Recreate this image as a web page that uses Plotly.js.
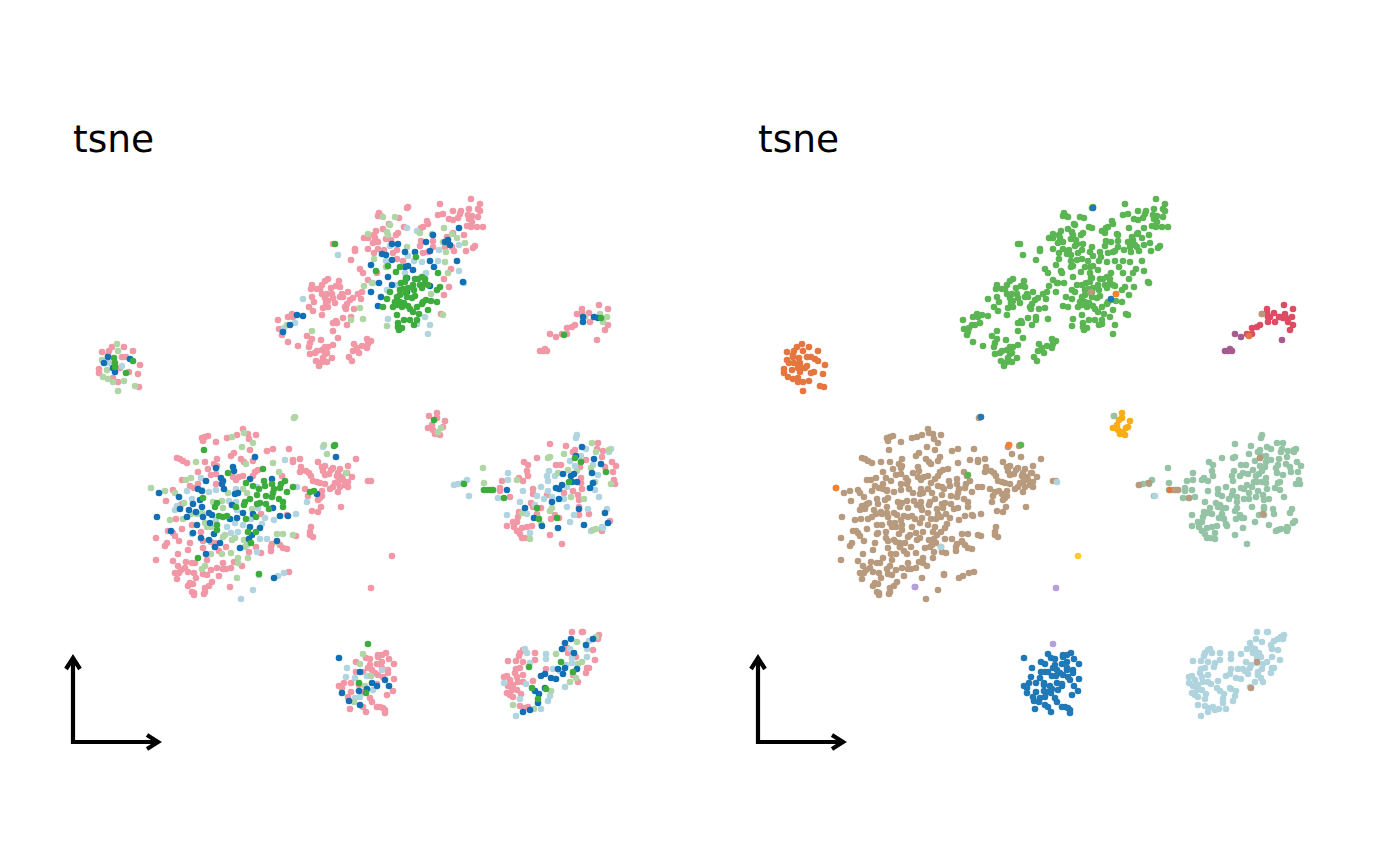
<!DOCTYPE html>
<html lang="en">
  <head>
    <meta charset="UTF-8" />
    <title>tsne</title>
    <script src="https://cdn.plot.ly/plotly-3.0.1.min.js"></script>
    <style>
      body { margin: 0; background: #fff; }
      #plot { width: 1400px; height: 866px; }
    </style>
  </head>
  <body>
    <div id="plot"></div>
    <script>
      // embedding positions, one list per cluster and cell type
      const upperPink = [[471,199],[440,204],[480,204],[478,209],[480,211],[469,209],[461,211],[453,211],[443,214],[438,215],[460,214],[468,215],[472,216],[478,217],[458,218],[449,219],[453,220],[469,219],[472,222],[467,226],[471,227],[477,227],[483,227],[408,207],[407,208],[464,235],[453,233],[447,237],[475,246],[473,248],[466,251],[452,247],[454,251],[445,247],[433,241],[421,241],[423,227],[427,221],[428,224],[421,228],[404,227],[399,218],[379,213],[378,216],[381,216],[389,224],[383,229],[376,231],[374,235],[364,238],[368,238],[375,238],[373,243],[378,242],[386,239],[391,240],[396,235],[398,233],[368,249],[355,249],[355,251],[378,249],[384,250],[374,253],[351,260],[393,253],[397,250],[333,244],[423,253],[428,252],[433,247],[420,246],[397,259],[403,261],[360,269],[363,273],[368,280],[377,273],[451,269],[444,279],[449,287],[444,295],[441,314],[328,279],[325,281],[339,281],[312,285],[311,289],[322,285],[317,289],[320,289],[336,286],[340,287],[331,288],[348,292],[322,294],[327,294],[332,294],[312,297],[342,294],[340,297],[343,297],[325,298],[328,301],[333,298],[326,303],[314,302],[335,303],[350,300],[353,298],[358,294],[362,292],[361,299],[347,304],[345,307],[328,307],[323,308],[309,307],[313,311],[346,309],[354,309],[322,315],[351,317],[343,318],[336,321],[333,323],[337,323],[347,325],[278,320],[288,317],[292,314],[293,317],[279,329],[282,335],[333,331],[338,338],[307,336],[312,339],[321,340],[288,342],[298,346],[310,343],[309,347],[333,345],[328,347],[325,347],[322,350],[317,351],[310,354],[315,353],[325,354],[327,353],[323,358],[332,358],[316,361],[322,362],[327,362],[319,366],[354,344],[367,339],[371,341],[368,344],[362,346],[367,348],[357,348],[353,351],[359,353],[349,357],[352,361]];
      const upperLeaf = [[383,217],[395,217],[390,225],[387,232],[388,235],[368,234],[420,233],[432,234],[444,228],[452,234],[457,238],[465,243],[443,242],[407,247],[446,252],[445,262],[374,259],[386,267],[448,273],[364,286],[372,283],[360,308],[363,319],[351,320],[431,294],[443,315],[387,326],[312,331],[287,325]];
      const upperSky = [[338,255],[303,299],[295,323],[284,328],[407,228],[417,231],[390,246],[459,245],[439,250],[408,256],[386,261],[414,261],[422,262],[438,261],[405,273],[426,273],[459,271],[464,283],[373,283],[387,290],[397,285],[388,319],[425,317],[430,325],[428,334],[417,324]];
      const upperBlue = [[459,228],[448,240],[445,242],[450,245],[398,244],[392,244],[426,242],[433,235],[405,252],[415,252],[430,251],[382,254],[386,255],[392,260],[430,261],[457,261],[434,267],[371,265],[405,267],[408,266],[413,270],[388,277],[407,278],[392,285],[379,283],[371,292],[381,297],[378,306],[430,286],[407,292],[463,282],[297,315],[303,316],[290,325],[283,332]];
      const upperGreen = [[335,244],[376,271],[416,257],[400,267],[396,272],[438,273],[388,266],[422,277],[415,279],[418,279],[425,279],[401,283],[406,278],[405,282],[413,285],[420,285],[425,283],[428,285],[422,288],[414,290],[408,288],[400,290],[403,289],[390,292],[440,287],[437,290],[415,296],[412,298],[400,295],[406,293],[397,297],[387,299],[395,302],[407,297],[400,302],[404,303],[397,305],[402,307],[393,307],[383,307],[431,301],[437,302],[423,302],[426,300],[422,304],[417,307],[408,306],[410,309],[413,312],[428,310],[419,314],[397,315],[404,320],[410,320],[417,320],[398,323],[414,325],[398,327],[402,328],[399,330]];

      const lowerPink = [[243,429],[248,434],[256,435],[237,435],[227,438],[208,436],[205,437],[202,438],[203,441],[216,442],[249,439],[289,449],[273,449],[267,451],[250,450],[234,453],[231,456],[177,458],[180,459],[183,461],[187,463],[205,462],[217,459],[241,459],[244,462],[253,461],[214,464],[217,466],[208,469],[198,472],[182,480],[216,474],[211,475],[198,484],[216,484],[190,486],[194,488],[255,472],[253,476],[243,476],[239,477],[233,477],[236,480],[258,470],[173,490],[166,501],[182,504],[181,505],[176,519],[192,525],[182,529],[168,531],[173,533],[175,536],[179,541],[156,538],[167,543],[165,546],[190,543],[201,532],[203,541],[211,542],[215,543],[203,548],[188,550],[178,554],[219,551],[226,547],[215,547],[156,560],[173,561],[186,562],[195,563],[207,560],[192,563],[178,566],[181,570],[175,573],[179,573],[185,568],[188,572],[194,573],[203,574],[207,575],[211,570],[217,568],[223,563],[223,569],[226,569],[219,576],[231,568],[234,562],[242,566],[196,578],[177,579],[212,582],[193,584],[190,583],[188,586],[209,586],[205,588],[230,587],[192,592],[194,593],[194,595],[205,592],[204,594],[249,552],[261,553],[271,547],[272,544],[271,551],[280,545],[283,548],[287,549],[289,572],[256,547],[296,536],[311,527],[310,532],[310,535],[313,537],[261,514],[287,515],[300,459],[293,460],[293,462],[301,467],[300,472],[318,462],[325,466],[322,467],[306,471],[309,473],[311,476],[323,471],[325,475],[331,470],[333,468],[329,474],[340,469],[348,466],[356,459],[338,473],[337,476],[342,477],[352,477],[347,473],[313,481],[317,482],[320,483],[325,484],[335,483],[338,482],[343,480],[348,482],[345,485],[348,487],[340,487],[330,489],[333,487],[338,492],[322,491],[322,496],[305,489],[308,496],[318,500],[320,498],[321,507],[312,511],[318,512],[341,507],[368,481],[371,481],[282,476]];
      const lowerLeaf = [[295,417],[294,418],[232,437],[244,433],[253,443],[242,447],[246,464],[196,462],[273,463],[279,472],[324,445],[327,454],[346,473],[151,488],[165,491],[175,493],[186,480],[191,478],[228,493],[247,493],[243,489],[213,502],[222,501],[184,503],[223,508],[191,514],[197,514],[202,513],[170,520],[183,519],[205,523],[207,527],[211,527],[252,509],[225,535],[223,537],[235,538],[232,540],[244,540],[277,534],[283,534],[293,535],[277,542],[247,545],[245,547],[231,553],[211,554],[222,554],[238,558],[248,558],[238,563],[205,566],[202,569],[237,578]];
      const lowerSky = [[323,447],[285,460],[297,487],[307,502],[296,514],[265,518],[274,520],[251,519],[201,478],[187,491],[202,490],[209,492],[216,490],[236,489],[236,502],[229,501],[192,499],[177,506],[175,510],[257,487],[258,508],[237,510],[216,520],[227,527],[235,523],[243,525],[262,524],[231,533],[238,532],[260,539],[267,539],[192,534],[257,552],[278,576],[284,573],[253,590],[241,599],[259,575]];
      const lowerBlue = [[336,457],[317,494],[255,457],[216,468],[233,467],[234,471],[221,478],[223,481],[222,484],[224,489],[206,481],[250,479],[272,479],[159,493],[179,497],[198,489],[202,491],[200,500],[193,504],[180,509],[189,510],[202,507],[196,512],[157,517],[187,517],[203,517],[209,513],[212,515],[210,523],[197,525],[235,494],[238,493],[232,505],[243,513],[253,514],[230,519],[237,518],[273,508],[280,516],[288,516],[250,527],[260,528],[252,535],[249,539],[214,534],[193,533],[171,531],[201,538],[209,540],[220,543],[215,547],[240,548],[206,554],[274,578],[277,541]];
      const lowerGreen = [[204,450],[335,445],[334,446],[263,469],[228,473],[246,483],[264,481],[272,484],[265,486],[253,486],[281,484],[285,481],[293,487],[259,489],[274,489],[280,488],[287,492],[273,493],[257,495],[266,496],[272,497],[217,503],[215,507],[203,498],[250,499],[245,502],[260,503],[257,504],[266,504],[279,499],[283,502],[283,507],[236,507],[244,505],[269,509],[219,516],[223,517],[227,516],[246,519],[256,517],[217,525],[217,530],[248,532],[256,532],[251,543],[198,558],[259,574],[310,492],[314,491]];

      const sidePink = [[550,444],[566,446],[598,443],[573,452],[575,450],[597,449],[603,451],[602,457],[537,458],[524,462],[528,465],[527,471],[528,476],[519,478],[523,481],[502,481],[500,488],[500,491],[510,497],[556,465],[561,465],[580,467],[586,460],[612,462],[616,466],[605,467],[613,472],[614,480],[615,484],[581,478],[581,483],[582,489],[573,491],[564,493],[578,495],[579,500],[547,495],[533,489],[533,494],[579,507],[579,515],[589,514],[531,503],[533,507],[541,508],[519,512],[518,517],[537,514],[551,519],[555,515],[559,518],[513,522],[517,522],[507,526],[514,527],[522,528],[527,527],[532,526],[517,531],[520,534],[522,538],[525,538],[550,535],[562,544],[602,531],[610,521]];
      const sideLeaf = [[592,443],[596,452],[609,450],[564,454],[548,458],[550,457],[483,468],[484,483],[558,473],[568,470],[577,471],[591,468],[517,480],[595,482],[611,484],[571,497],[584,499],[552,508],[550,511],[522,513],[538,518],[541,524],[530,539],[596,529],[593,530]];
      const sideSky = [[577,435],[576,438],[611,449],[609,452],[586,449],[581,456],[593,465],[570,461],[575,466],[549,471],[508,473],[508,480],[547,476],[548,481],[555,476],[598,475],[467,480],[463,483],[458,484],[454,485],[469,496],[498,498],[523,491],[541,487],[537,496],[548,491],[552,497],[544,499],[520,502],[535,505],[564,499],[567,507],[595,490],[599,497],[588,509],[607,509],[507,515],[527,514],[570,522],[574,515],[530,533],[591,531],[602,527],[603,528],[567,487]];
      const sideBlue = [[582,447],[576,456],[594,459],[601,464],[592,473],[563,474],[571,476],[574,474],[572,482],[577,482],[562,485],[556,488],[559,489],[590,488],[593,483],[507,490],[559,499],[552,502],[525,508],[579,509],[605,513],[534,518],[542,526],[558,528],[584,525],[608,523]];
      const sideGreen = [[575,458],[581,462],[606,472],[569,482],[464,484],[484,490],[488,490],[491,490],[493,490],[504,498],[537,508],[539,519],[557,518]];

      const midPink = [[386,653],[382,655],[378,655],[378,657],[389,659],[366,658],[370,659],[394,664],[356,662],[377,664],[382,662],[370,665],[368,668],[382,668],[388,670],[356,672],[372,670],[375,673],[388,673],[363,672],[378,675],[383,677],[394,679],[351,683],[344,683],[339,686],[342,688],[377,684],[359,685],[393,691],[387,695],[351,692],[348,697],[370,698],[372,702],[363,707],[377,707],[380,707],[383,708],[385,710],[385,713],[350,709],[366,712],[362,692]];
      const midLeaf = [[363,654],[360,664],[371,676],[365,686],[354,702]];
      const midSky = [[347,668],[346,677],[355,678],[367,676],[382,670],[373,690],[360,697],[355,698]];
      const midBlue = [[339,658],[360,672],[385,680],[389,686],[372,683],[377,686],[367,689],[359,691],[342,693],[349,701],[360,705]];
      const midGreen = [[359,683],[366,693]];

      const cornerPink = [[572,632],[582,632],[583,632],[599,635],[598,639],[568,653],[593,650],[576,657],[595,660],[567,648],[523,650],[520,653],[519,656],[535,653],[508,661],[516,661],[523,662],[535,660],[520,668],[516,669],[546,669],[587,668],[589,668],[586,673],[573,675],[578,682],[507,676],[504,677],[515,673],[510,680],[517,677],[523,675],[533,681],[508,686],[513,685],[518,682],[523,682],[512,690],[517,690],[507,693],[510,695],[513,697],[521,694],[520,706],[524,708],[528,707]];
      const cornerLeaf = [[556,654],[577,642],[596,637],[582,662],[578,664],[576,678],[570,682],[551,691],[513,705],[534,709]];
      const cornerSky = [[525,649],[527,653],[546,654],[546,659],[530,663],[570,649],[572,658],[572,663],[587,657],[587,649],[589,641],[553,669],[560,671],[566,665],[504,683],[526,684],[565,687],[550,696],[548,701],[520,699],[541,709],[516,716]];
      const cornerBlue = [[571,639],[565,643],[562,649],[586,645],[593,639],[574,653],[558,669],[565,668],[563,674],[577,669],[545,674],[541,676],[551,678],[556,679],[545,688],[535,691],[539,694],[538,703],[530,710],[523,712]];
      const cornerGreen = [[561,662],[529,667],[573,672],[532,688],[546,689],[538,699]];

      const blobPink = [[102,352],[112,347],[109,351],[124,347],[133,351],[122,357],[126,357],[140,365],[99,369],[99,373],[129,372],[138,374],[120,368],[118,382],[113,378],[139,387],[108,355]];
      const blobLeaf = [[117,344],[118,351],[102,360],[107,370],[103,377],[108,379],[113,382],[124,381],[135,386],[118,391]];
      const blobSky = [[122,366],[109,363]];
      const blobBlue = [[108,357],[104,363],[130,359],[115,372],[113,368]];
      const blobGreen = [[114,358],[115,363],[115,367],[133,361],[126,373]];

      const tinyPink = [[437,413],[429,416],[437,418],[445,421],[432,425],[428,428],[433,430],[443,427],[435,434],[440,435]];
      const tinyLeaf = [[441,428],[438,432]];
      const tinyGreen = [[434,420]];

      const armPink = [[599,305],[608,309],[582,309],[577,314],[582,313],[589,313],[590,322],[608,325],[605,330],[575,325],[572,327],[567,328],[567,334],[562,334]];
      const armLeaf = [[585,317],[600,314],[607,317],[603,322]];
      const armSky = [[595,317]];
      const armBlue = [[583,317],[583,322],[594,317],[598,318]];
      const armGreen = [[601,318],[564,335]];
      const tailPink = [[550,334],[556,337],[597,340],[540,351],[543,351],[545,349],[547,351]];

      // left-panel cells that only have a stray counterpart on the right
      const loosePink = [[392,556],[371,588]];
      const looseGreen = [[368,644]];

      // cells in the right panel whose cluster differs from the blob around them
      const strayBlue = [[408,208],[296,417],[426,299]];
      const strayFlame = [[431,294],[151,488],[324,445]];
      const strayRust = [[485,490],[564,336]];
      const strayLeaf = [[336,445],[283,475]];
      const strayTan = [[406,292],[577,314],[454,485],[464,483],[490,490],[493,490],[504,498],[575,458],[578,514],[572,662],[566,688]];
      const straySky = [[256,547],[372,482],[470,496]];
      const strayGold = [[393,556]];
      const strayLilac = [[371,588],[230,587],[368,644]];
      const straySage = [[429,416]];

      // corner axis arrows: horizontal run, then its head, then the vertical head
      const arrowX = [73, 73, 158, null, 66, 73, 80, null, 147, 158, 147];
      const arrowY = [658, 742, 742, null, 669, 658, 669, null, 735, 742, 749];

      const leftGroups = [
        { color: "#f297a5", pts: [upperPink, lowerPink, sidePink, midPink, cornerPink, blobPink, tinyPink, armPink, tailPink, loosePink] },
        { color: "#b1d5e0", pts: [upperSky, lowerSky, sideSky, midSky, cornerSky, blobSky, armSky] },
        { color: "#b0d6a5", pts: [upperLeaf, lowerLeaf, sideLeaf, midLeaf, cornerLeaf, blobLeaf, tinyLeaf, armLeaf] },
        { color: "#1170b5", pts: [upperBlue, lowerBlue, sideBlue, midBlue, cornerBlue, blobBlue, armBlue] },
        { color: "#3cad3c", pts: [upperGreen, lowerGreen, sideGreen, midGreen, cornerGreen, blobGreen, tinyGreen, armGreen, looseGreen] },
      ];

      const rightGroups = [
        { color: "#5ab552", pts: [upperPink, upperLeaf, upperSky, upperBlue, upperGreen] },
        { color: "#b89b7e", pts: [lowerPink, lowerLeaf, lowerSky, lowerBlue, lowerGreen] },
        { color: "#95c3a6", pts: [sidePink, sideLeaf, sideSky, sideBlue, sideGreen] },
        { color: "#2079b6", pts: [midPink, midLeaf, midSky, midBlue, midGreen] },
        { color: "#b0d4de", pts: [cornerPink, cornerLeaf, cornerSky, cornerBlue, cornerGreen] },
        { color: "#e5763f", pts: [blobPink, blobLeaf, blobSky, blobBlue, blobGreen] },
        { color: "#fcac14", pts: [tinyPink, tinyLeaf, tinyGreen] },
        { color: "#de4b63", pts: [armPink, armLeaf, armSky, armBlue, armGreen] },
        { color: "#a65b8e", pts: [tailPink] },
        { color: "#2079b6", pts: [strayBlue] },
        { color: "#fe7f2d", pts: [strayFlame] },
        { color: "#e5763f", pts: [strayRust] },
        { color: "#5ab552", pts: [strayLeaf] },
        { color: "#b89b7e", pts: [strayTan] },
        { color: "#b0d4de", pts: [straySky] },
        { color: "#ffc92f", pts: [strayGold] },
        { color: "#b39fdc", pts: [strayLilac] },
        { color: "#95c3a6", pts: [straySage] },
      ];

      function scatterTrace(group, xaxis, yaxis) {
        const all = group.pts.flat();
        return {
          x: all.map((p) => p[0]),
          y: all.map((p) => p[1]),
          xaxis,
          yaxis,
          type: "scatter",
          mode: "markers",
          marker: { size: 6.6, color: group.color, line: { width: 0 } },
          hoverinfo: "skip",
        };
      }

      function arrowTrace(xaxis, yaxis) {
        return {
          x: arrowX,
          y: arrowY,
          xaxis,
          yaxis,
          type: "scatter",
          mode: "lines",
          line: { color: "#000", width: 4.2 },
          hoverinfo: "skip",
        };
      }

      function panelAxis(domain, range) {
        return { domain, range, visible: false, fixedrange: true };
      }

      const traces = [
        ...leftGroups.map((g) => scatterTrace(g, "x", "y")),
        arrowTrace("x", "y"),
        ...rightGroups.map((g) => scatterTrace(g, "x2", "y2")),
        arrowTrace("x2", "y2"),
      ];

      function panelTitle(xref, yref) {
        return {
          text: "tsne",
          xref,
          yref,
          x: 71,
          y: 139,
          xanchor: "left",
          yanchor: "middle",
          showarrow: false,
          font: { family: "DejaVu Sans", size: 37.5, color: "#000" },
        };
      }

      Plotly.newPlot(
        "plot",
        traces,
        {
          width: 1400,
          height: 866,
          margin: { l: 0, r: 0, t: 0, b: 0 },
          showlegend: false,
          paper_bgcolor: "#fff",
          plot_bgcolor: "#fff",
          xaxis: panelAxis([0, 0.5], [0, 700]),
          yaxis: panelAxis([0, 1], [866, 0]),
          xaxis2: panelAxis([685 / 1400, 1385 / 1400], [0, 700]),
          yaxis2: panelAxis([0, 1], [866, 0]),
          annotations: [panelTitle("x", "y"), panelTitle("x2", "y2")],
        },
        { staticPlot: true }
      );
    </script>
  </body>
</html>
